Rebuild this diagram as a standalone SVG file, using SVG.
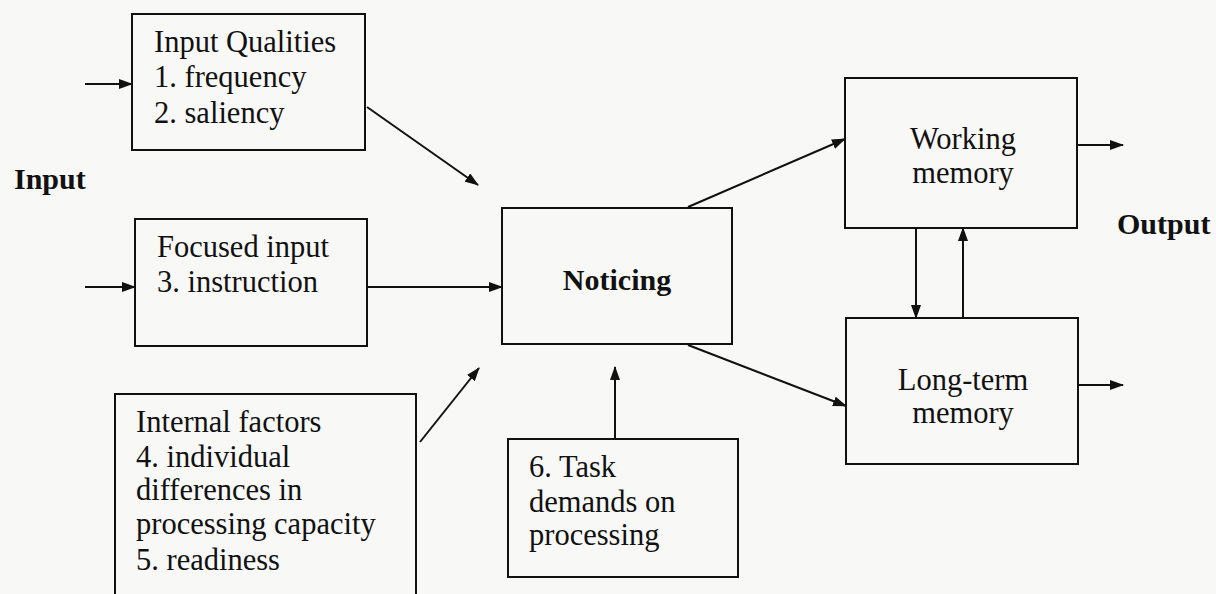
<svg xmlns="http://www.w3.org/2000/svg" width="1216" height="594" viewBox="0 0 1216 594">
<defs>
<style>
.box{fill:none;stroke:#111;stroke-width:2}
.t{font-family:"Liberation Serif","Times New Roman",serif;font-size:30.5px;fill:#111}
.b{font-family:"Liberation Serif","Times New Roman",serif;font-size:30px;font-weight:bold;fill:#111}
.c{fill:none;stroke:#111;stroke-width:2;marker-end:url(#ah)}
</style>
<marker id="ah" markerUnits="userSpaceOnUse" markerWidth="14" markerHeight="10" refX="13" refY="5" orient="auto">
<path d="M0,0 L14,5 L0,10 z" fill="#111"/>
</marker>
</defs>
<rect width="1216" height="594" fill="#f8f8f7"/>
<g id="label-input"><text class="b" x="14" y="189">Input</text></g>
<g id="label-output"><text class="b" x="1117" y="234">Output</text></g>
<g id="input-qualities">
<rect class="box" x="132" y="14" width="233" height="136"/>
<text class="t" x="154" y="52">Input Qualities</text>
<text class="t" x="154" y="87">1. frequency</text>
<text class="t" x="154" y="123">2. saliency</text>
</g>
<g id="focused-input">
<rect class="box" x="135" y="219" width="232" height="127"/>
<text class="t" x="157" y="257">Focused input</text>
<text class="t" x="157" y="292">3. instruction</text>
</g>
<g id="internal-factors">
<rect class="box" x="115" y="394" width="301" height="215"/>
<text class="t" x="136" y="432">Internal factors</text>
<text class="t" x="136" y="467">4. individual</text>
<text class="t" x="136" y="500">differences in</text>
<text class="t" x="136" y="534">processing capacity</text>
<text class="t" x="136" y="570">5. readiness</text>
</g>
<g id="noticing">
<rect class="box" x="502" y="208" width="230" height="136"/>
<text class="b" x="617" y="290" text-anchor="middle">Noticing</text>
</g>
<g id="task-demands">
<rect class="box" x="508" y="439" width="230" height="138"/>
<text class="t" x="529" y="477">6. Task</text>
<text class="t" x="529" y="512">demands on</text>
<text class="t" x="529" y="545">processing</text>
</g>
<g id="working-memory">
<rect class="box" x="845" y="78" width="232" height="150"/>
<text class="t" x="963" y="149" text-anchor="middle">Working</text>
<text class="t" x="963" y="183" text-anchor="middle">memory</text>
</g>
<g id="long-term-memory">
<rect class="box" x="846" y="318" width="232" height="146"/>
<text class="t" x="963" y="390" text-anchor="middle">Long-term</text>
<text class="t" x="963" y="423" text-anchor="middle">memory</text>
</g>
<g id="connectors">
<line class="c" x1="85" y1="84" x2="132" y2="84"/>
<line class="c" x1="85" y1="287" x2="135" y2="287"/>
<line class="c" x1="367" y1="107" x2="478" y2="185"/>
<line class="c" x1="367" y1="287" x2="502" y2="287"/>
<line class="c" x1="420" y1="442" x2="479" y2="368"/>
<line class="c" x1="615" y1="439" x2="615" y2="367"/>
<line class="c" x1="688" y1="207" x2="845" y2="139"/>
<line class="c" x1="688" y1="345" x2="846" y2="406"/>
<line class="c" x1="916" y1="228" x2="916" y2="318"/>
<line class="c" x1="963" y1="318" x2="963" y2="228"/>
<line class="c" x1="1077" y1="145" x2="1123" y2="145"/>
<line class="c" x1="1078" y1="385" x2="1123" y2="385"/>
</g>
</svg>
